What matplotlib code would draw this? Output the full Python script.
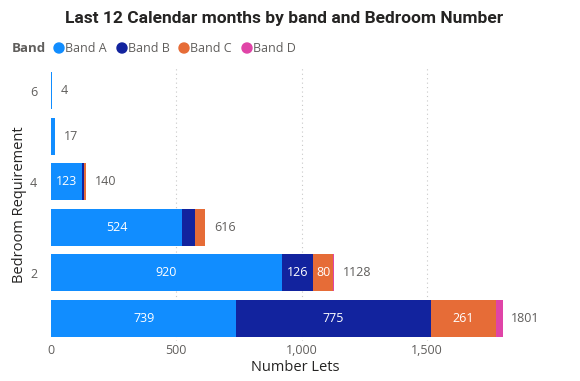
import matplotlib
matplotlib.use("Agg")
import matplotlib.pyplot as plt
import numpy as np

bedrooms = [1, 2, 3, 4, 5, 6]
band_names = ["Band A", "Band B", "Band C", "Band D"]
band_a = [739, 920, 524, 123, 17, 4]
band_b = [775, 126, 49, 9, 0, 0]
band_c = [261, 80, 43, 8, 0, 0]
band_d = [26, 2, 0, 0, 0, 0]
totals = [1801, 1128, 616, 140, 17, 4]
yticks = [2, 4, 6]
xticks = [0, 500, 1000, 1500]
xtick_labels = ["0", "500", "1,000", "1,500"]
colors = ["#118DFF", "#12239E", "#E66C37", "#E044A7"]

W, H = 580, 381
fig = plt.figure(figsize=(W / 100, H / 100), dpi=100)
x0, x1 = 51, 540
y_top, y_bot = 68, 341
ax = fig.add_axes([x0 / W, 1 - y_bot / H, (x1 - x0) / W, (y_bot - y_top) / H])
xmax = (x1 - x0) / 0.2507
ax.set_xlim(0, xmax)
ax.set_ylim(0.5, 6.5)

series = [band_a, band_b, band_c, band_d]
left = np.zeros(len(bedrooms))
for name, vals, col in zip(band_names, series, colors):
    vals = np.array(vals, dtype=float)
    ax.barh(bedrooms, vals, left=left, height=0.81, color=col, label=name, zorder=3)
    for y, l, v in zip(bedrooms, left, vals):
        if v >= 60:
            ax.text(l + v / 2, y, f"{int(v)}", ha="center", va="center",
                    color="white", fontsize=9, family="Open Sans", zorder=4)
    left += vals

for y, t in zip(bedrooms, totals):
    ax.text(t + 35, y, f"{t}", ha="left", va="center", color="#605E5C",
            fontsize=9, family="Open Sans")

for xt in xticks[1:]:
    ax.axvline(xt, color="#C8C8C8", linestyle=(0, (1, 3)), linewidth=0.8, zorder=1)

for s in ax.spines.values():
    s.set_visible(False)
ax.set_xticks(xticks)
ax.set_xticklabels(xtick_labels)
ax.set_yticks(yticks)
ax.tick_params(length=0, colors="#605E5C", labelsize=9, pad=2)
ax.tick_params(axis="y", pad=10)
for lbl in ax.get_xticklabels() + ax.get_yticklabels():
    lbl.set_family("Open Sans")
ax.set_xlabel("Number Lets", fontsize=10.5, color="#252423", family="Open Sans", labelpad=2)
ax.set_ylabel("Bedroom Requirement", fontsize=10.5, color="#252423", family="Open Sans", labelpad=2)

fig.text(284 / W, 1 - 18 / H, "Last 12 Calendar months by band and Bedroom Number",
         ha="center", va="center", fontsize=12.5, fontweight="bold", color="#252423",
         family="Roboto")

# legend
fig.text(12 / W, 1 - 48 / H, "Band", ha="left", va="center", fontsize=9.5,
         fontweight="bold", color="#605E5C", family="Open Sans")
lx = [59, 122, 184, 247]
for x, name, col in zip(lx, band_names, colors):
    fig.patches.append(matplotlib.patches.Ellipse((x / W, 1 - 48 / H), 10 / W, 10 / H,
                       transform=fig.transFigure, color=col, figure=fig))
    fig.text((x + 6) / W, 1 - 48 / H, name, ha="left", va="center", fontsize=9,
             color="#605E5C", family="Open Sans")

fig.savefig("out.png", dpi=100, facecolor="white")
